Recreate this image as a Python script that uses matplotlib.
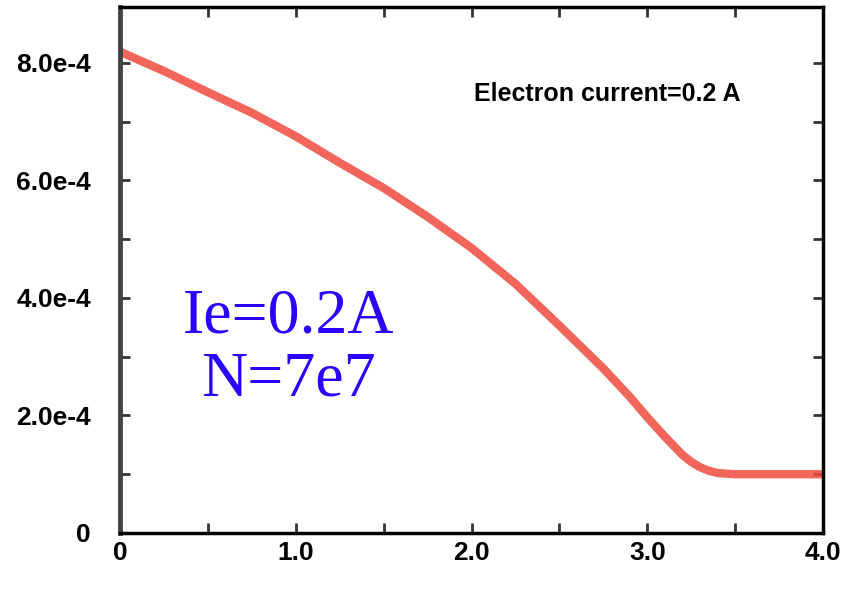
import matplotlib
matplotlib.use("Agg")
import matplotlib.pyplot as plt
from matplotlib.ticker import MultipleLocator

# values
energy = [0.0, 0.25, 0.5, 0.75, 1.0, 1.25, 1.5, 1.75, 2.0, 2.25, 2.5,
          2.75, 2.9, 3.0, 3.1, 3.2, 3.25, 3.3, 3.35, 3.4, 3.5, 4.0]
signal = [8.19e-4, 7.86e-4, 7.50e-4, 7.15e-4, 6.75e-4, 6.30e-4, 5.87e-4,
          5.38e-4, 4.85e-4, 4.24e-4, 3.53e-4, 2.80e-4, 2.32e-4, 1.97e-4,
          1.64e-4, 1.33e-4, 1.21e-4, 1.12e-4, 1.06e-4, 1.02e-4, 1.00e-4,
          1.00e-4]

x_ticks = [0, 1.0, 2.0, 3.0, 4.0]
x_labels = ["0", "1.0", "2.0", "3.0", "4.0"]
y_ticks = [0, 2e-4, 4e-4, 6e-4, 8e-4]
y_labels = ["0", "2.0e-4", "4.0e-4", "6.0e-4", "8.0e-4"]

fig = plt.figure(figsize=(8.47, 5.93), dpi=100)
ax = fig.add_axes([120 / 847, 60 / 593, 703 / 847, 526 / 593])

ax.plot(energy, signal, color="#f04a3e", lw=6, alpha=0.85,
        solid_capstyle="butt", solid_joinstyle="round")

ax.set_xlim(0, 4.0)
ax.set_ylim(0, 8.95e-4)

ax.set_xticks(x_ticks)
ax.set_xticklabels(x_labels)
ax.set_yticks(y_ticks)
ax.set_yticklabels(y_labels)
ax.xaxis.set_minor_locator(MultipleLocator(0.5))
ax.yaxis.set_minor_locator(MultipleLocator(1e-4))

ax.tick_params(which="both", direction="in", top=True, right=True,
               length=7, width=2, color="#333333")
ax.tick_params(axis="x", pad=6)
ax.tick_params(axis="y", pad=21)
for lab in ax.get_xticklabels() + ax.get_yticklabels():
    lab.set_fontfamily("Liberation Sans")
    lab.set_fontweight("bold")
    lab.set_fontsize(19)

for side in ["top", "right", "bottom"]:
    ax.spines[side].set_linewidth(2.5)
    ax.spines[side].set_color("black")
ax.spines["left"].set_linewidth(3.5)
ax.spines["left"].set_color("#444444")

ax.text(0.504, 0.835, "Electron current=0.2 A", transform=ax.transAxes,
        fontfamily="Liberation Sans", fontweight="bold", fontsize=18,
        ha="left", va="center")

ax.text(0.239, 0.35, "Ie=0.2A\nN=7e7", transform=ax.transAxes,
        fontfamily="Liberation Serif", fontsize=46, color="#2a00ff",
        ha="center", va="center", linespacing=1.12)

fig.savefig("out.png", dpi=100)
